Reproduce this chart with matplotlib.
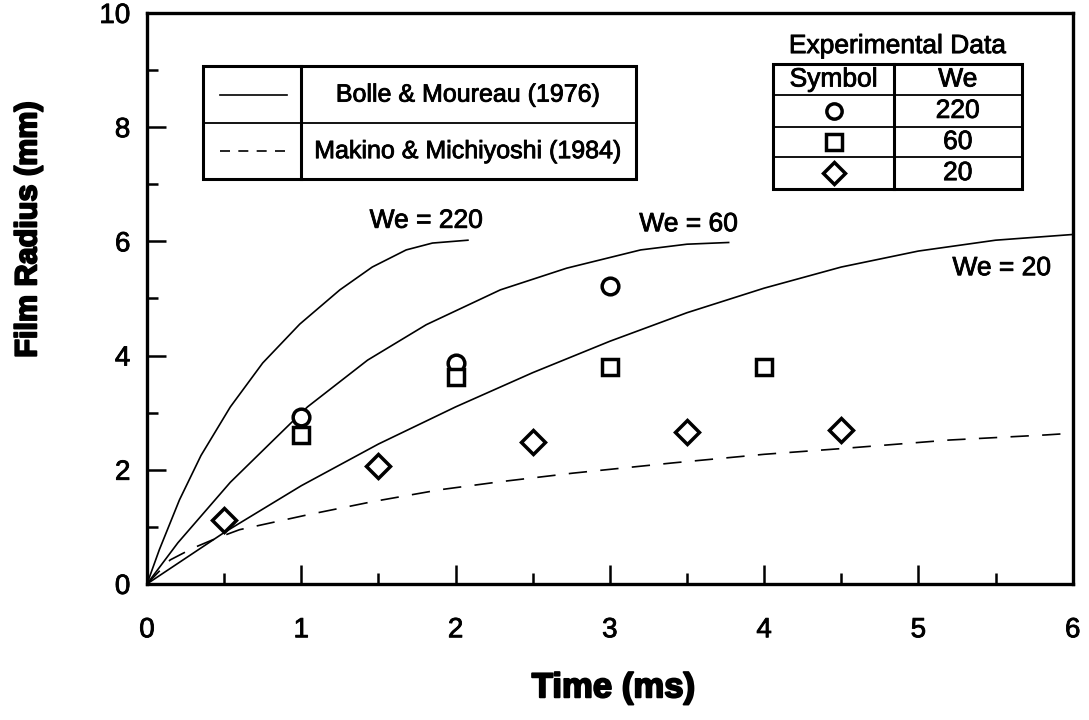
import numpy as np
import matplotlib.pyplot as plt
import matplotlib.patheffects as pe
from matplotlib.patches import Rectangle

plt.rcParams['font.family'] = ['Liberation Sans', 'DejaVu Sans']

# Bolle & Moureau (1976), film radius vs time for each Weber number
t_we220 = [0, 0.08, 0.21, 0.35, 0.54, 0.75, 0.99, 1.25, 1.46, 1.68, 1.85, 2.08]
r_we220 = [0, 0.60, 1.47, 2.25, 3.10, 3.87, 4.55, 5.15, 5.55, 5.85, 5.97, 6.02]
t_we60 = [0, 0.2, 0.54, 0.82, 1.04, 1.43, 1.81, 2.29, 2.72, 3.20, 3.50, 3.77]
r_we60 = [0, 0.72, 1.78, 2.52, 3.10, 3.92, 4.54, 5.15, 5.53, 5.85, 5.95, 5.98]
t_we20 = [0, 0.5, 1.0, 1.5, 2.0, 2.5, 3.0, 3.5, 4.0, 4.5, 5.0, 5.5, 6.0]
r_we20 = [0, 0.90, 1.72, 2.45, 3.10, 3.70, 4.25, 4.75, 5.18, 5.55, 5.83, 6.02, 6.12]

# Makino & Michiyoshi (1984)
t_mm = [0, 0.15, 0.30, 0.45, 0.60, 1.04, 1.46, 1.90, 2.29, 2.76, 3.41, 4.0, 4.5, 5.2, 5.83, 6.0]
r_mm = [0, 0.42, 0.63, 0.80, 0.95, 1.21, 1.44, 1.65, 1.79, 1.94, 2.12, 2.27, 2.37, 2.52, 2.61, 2.64]

# experimental data
t_circ = [1, 2, 3]
r_circ = [2.92, 3.87, 5.22]
t_sq = [1, 2, 3, 4]
r_sq = [2.60, 3.63, 3.80, 3.80]
t_dia = [0.5, 1.5, 2.5, 3.5, 4.5]
r_dia = [1.12, 2.07, 2.48, 2.66, 2.70]

simbolos = ['o', 's', 'D']
we_valores = ['220', '60', '20']

# traco um pouco mais grosso no texto
grosso = [pe.withStroke(linewidth=0.6, foreground='black')]
mais_grosso = [pe.withStroke(linewidth=1.4, foreground='black')]

fig = plt.figure(figsize=(10.89, 7.2), dpi=100)
ax = fig.add_axes([0.135, 0.189, 0.850, 0.793])

lw_curva = 1.2
ax.plot(t_we220, r_we220, color='black', lw=lw_curva)
ax.plot(t_we60, r_we60, color='black', lw=lw_curva)
ax.plot(t_we20, r_we20, color='black', lw=lw_curva)
ax.plot(t_mm, r_mm, color='black', lw=lw_curva, dashes=(11, 8))

estilo = dict(color='black', ls='none', mfc='white', mec='black', mew=2.5)
ax.plot(t_circ, r_circ, marker='o', ms=12, **estilo)
ax.plot(t_sq, r_sq, marker='s', ms=12, **estilo)
ax.plot(t_dia, r_dia, marker='D', ms=12, **estilo)

txt = dict(ha='center', va='center', path_effects=grosso)
ax.text(1.81, 6.36, 'We = 220', fontsize=19, **txt)
ax.text(3.51, 6.30, 'We = 60', fontsize=19, **txt)
ax.text(5.54, 5.53, 'We = 20', fontsize=19, **txt)

# caixa com as linhas dos modelos
lw_caixa = 2.2
ax.add_patch(Rectangle((0.363, 7.09), 3.17 - 0.363, 9.07 - 7.09, fill=False, lw=lw_caixa, zorder=3))
ax.plot([0.998, 0.998], [7.09, 9.07], color='black', lw=lw_caixa)
ax.plot([0.363, 3.17], [8.07, 8.07], color='black', lw=1.3)
ax.plot([0.47, 0.91], [8.57, 8.57], color='black', lw=lw_curva)
ax.plot([0.47, 0.91], [7.58, 7.58], color='black', lw=lw_curva, dashes=(6, 5))
ax.text(2.08, 8.57, 'Bolle & Moureau (1976)', fontsize=18, **txt)
ax.text(2.08, 7.58, 'Makino & Michiyoshi (1984)', fontsize=18, **txt)

# tabela dos dados experimentais
tx = [4.06, 4.84, 5.67]
ty = [9.11, 8.56, 8.01, 7.47, 6.92]
ax.add_patch(Rectangle((tx[0], ty[-1]), tx[2] - tx[0], ty[0] - ty[-1], fill=False, lw=lw_caixa, zorder=3))
ax.plot([tx[1], tx[1]], [ty[-1], ty[0]], color='black', lw=lw_caixa)
for y in ty[1:-1]:
    ax.plot([tx[0], tx[2]], [y, y], color='black', lw=1.3)
ax.text((tx[0] + tx[2]) / 2, 9.42, 'Experimental Data', fontsize=19, **txt)
ax.text((tx[0] + tx[1]) / 2, (ty[0] + ty[1]) / 2, 'Symbol', fontsize=19, **txt)
ax.text((tx[1] + tx[2]) / 2, (ty[0] + ty[1]) / 2, 'We', fontsize=19, **txt)
for i in range(3):
    yc = (ty[i + 1] + ty[i + 2]) / 2
    ax.plot([(tx[0] + tx[1]) / 2], [yc], marker=simbolos[i], ms=11, **estilo)
    ax.text((tx[1] + tx[2]) / 2, yc, we_valores[i], fontsize=19, **txt)

ax.set_xlim(0, 6)
ax.set_ylim(0, 10)
ax.set_xticks(np.arange(0, 7, 1))
ax.set_xticks(np.arange(0.5, 6, 1), minor=True)
ax.set_yticks(np.arange(0, 11, 2))
ax.set_yticks(np.arange(1, 10, 2), minor=True)
ax.tick_params(which='both', direction='in', top=False, right=False, width=1.8, labelsize=20)
ax.tick_params(which='major', length=14)
ax.tick_params(which='minor', length=8)
ax.tick_params(axis='x', pad=24)
ax.tick_params(axis='y', pad=12)
for lbl in ax.get_xticklabels() + ax.get_yticklabels():
    lbl.set_path_effects(grosso)
for s in ax.spines.values():
    s.set_linewidth(2.4)

ax.set_xlabel('Time (ms)', fontsize=25, fontweight='bold', path_effects=mais_grosso)
ax.set_ylabel('Film Radius (mm)', fontsize=22, fontweight='bold', path_effects=mais_grosso)
ax.xaxis.set_label_coords(0.504, -0.153)
ax.yaxis.set_label_coords(-0.112, 0.62)

fig.savefig('out.png', dpi=100)
